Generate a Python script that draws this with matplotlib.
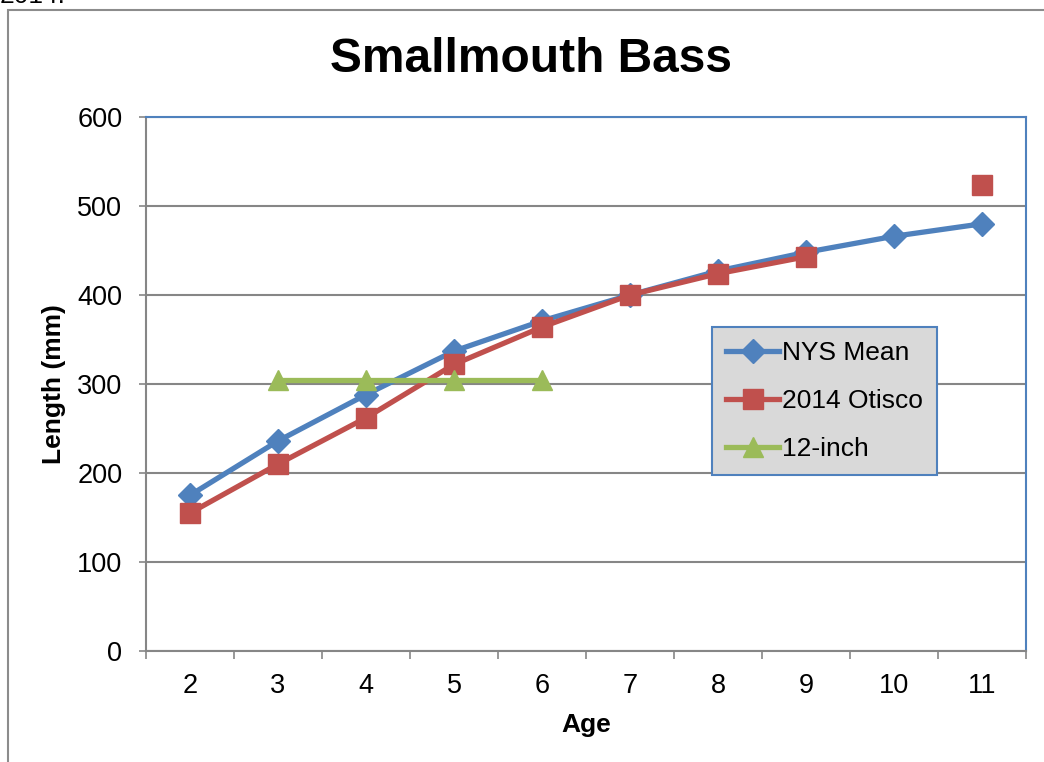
import numpy as np
import matplotlib
matplotlib.use('Agg')
import matplotlib.pyplot as plt
from matplotlib.patches import Rectangle

#chart data
ages = [2, 3, 4, 5, 6, 7, 8, 9, 10, 11]
nys_mean = [175, 236, 288, 337, 371, 400, 427, 448, 466, 480]
otisco_2014 = [155, 210, 262, 322, 364, 400, 424, 443, np.nan, 524]
twelve_inch = [np.nan, 305, 305, 305, 305, np.nan, np.nan, np.nan, np.nan, np.nan]

plt.rcParams['font.family'] = ['Liberation Sans', 'DejaVu Sans']

blue = '#4F81BD'
red = '#C0504D'
green = '#9BBB59'
grid_gray = '#868686'

fig = plt.figure(figsize=(10.44, 7.62), dpi=100)
ax = fig.add_axes([146/1044, 1 - 651/762, 880/1044, 534/762])

#outer chart border (runs off the right and bottom edges)
fig.patches.append(Rectangle((8/1044, -0.2), 1.2, 1.2 - 10/762, transform=fig.transFigure,
                             fill=False, edgecolor='#8C8C8C', linewidth=1.5))
#caption above the chart, cut off by the top edge like in the source
fig.text(0.0, 1 - 3/762, '2014.', fontsize=19, va='baseline', ha='left')

ax.plot(ages, nys_mean, color=blue, linewidth=3.8, marker='D', markersize=12,
        label='NYS Mean', zorder=3)
ax.plot(ages, otisco_2014, color=red, linewidth=3.8, marker='s', markersize=14,
        label='2014 Otisco', zorder=4)
ax.plot(ages, twelve_inch, color=green, linewidth=3.8, marker='^', markersize=14,
        label='12-inch', zorder=5)

ax.set_xlim(1.5, 11.5)
ax.set_ylim(0, 600)
ax.set_yticks(range(0, 601, 100))
ax.set_xticks(ages)
ax.set_xticks(np.arange(1.5, 11.6, 1), minor=True)
ax.tick_params(axis='x', which='major', length=0, labelsize=19.5, pad=16)
ax.tick_params(axis='x', which='minor', length=6, color=grid_gray, width=1.2, direction='out')
ax.tick_params(axis='y', length=5, color=grid_gray, width=1.2, labelsize=19.5, pad=12)

ax.yaxis.grid(True, color=grid_gray, linewidth=1.5)
ax.set_axisbelow(True)
ax.spines['left'].set_color(grid_gray)
ax.spines['bottom'].set_color(grid_gray)
ax.spines['left'].set_linewidth(1.5)
ax.spines['bottom'].set_linewidth(1.5)
ax.spines['top'].set_color(blue)
ax.spines['right'].set_color(blue)
ax.spines['top'].set_linewidth(1.5)
ax.spines['right'].set_linewidth(1.5)

ax.set_xlabel('Age', fontsize=19, fontweight='bold', labelpad=10)
ax.set_ylabel('Length (mm)', fontsize=19, fontweight='bold', labelpad=8)
fig.text(531/1044, 1 - 59/762, 'Smallmouth Bass', fontsize=34.5, fontweight='bold',
         ha='center', va='center')

leg = ax.legend(loc='upper left', bbox_to_anchor=(0.643, 0.607), borderaxespad=0,
                fontsize=19, fancybox=False, framealpha=1, facecolor='#D9D9D9',
                edgecolor=blue, handlelength=2.0, handletextpad=0.1, labelspacing=0.9,
                borderpad=0.55)
leg.get_frame().set_linewidth(1.5)

plt.savefig('out.png', dpi=100)
